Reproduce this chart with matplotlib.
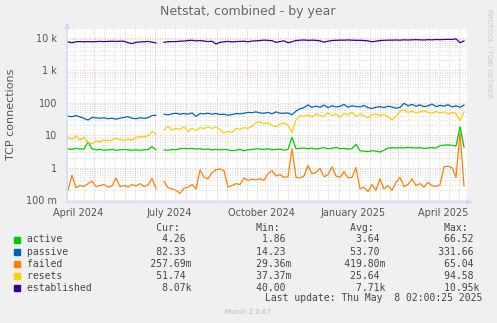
import numpy as np
import pandas as pd
import matplotlib
matplotlib.use('Agg')
from matplotlib import pyplot as plt

# 数据：每4天一个点，从 2024-04-05 开始
dates = pd.date_range('2024-04-05', periods=100, freq='4D')
nan = np.nan

active = [3.8, 3.6, 3.9, 3.7, 3.7, 6.2, 3.8, 3.5, 3.6, 3.4,
          3.5, 3.6, 3.4, 3.5, 3.6, 3.5, 3.4, 3.5, 3.4, 3.5,
          3.6, 4.4, 3.5, nan, 3.5, 3.4, 3.6, 3.5, 3.8, 3.9,
          3.8, 3.9, 3.7, 3.8, 3.6, 3.7, 3.5, 3.6, 3.5, 3.6,
          3.5, 3.3, 3.4, 3.6, 3.3, 3.5, 3.6, 3.8, 3.7, 3.6,
          3.8, 3.5, 3.6, 3.7, 3.4, 3.6, 8.5, 3.8, 3.9, 4.0,
          3.8, 4.0, 3.7, 3.9, 4.1, 3.8, 3.9, 4.2, 3.8, 3.9,
          3.7, 3.8, 5.2, 3.3, 3.2, 3.1, 3.3, 3.2, 3.0, 3.4,
          4.0, 4.1, 4.0, 4.1, 4.0, 4.2, 4.1, 4.0, 4.1, 3.9,
          4.0, 4.1, 4.0, 4.7, 4.9, 5.0, 4.8, 4.6, 18.0, 4.3]

passive = [38, 37, 40, 36, 33, 29, 35, 34, 33, 34,
           32, 33, 31, 33, 35, 37, 33, 32, 34, 33,
           34, 40, 41, nan, 44, 42, 45, 47, 44, 46,
           44, 48, 38, 46, 45, 47, 44, 46, 43, 44,
           41, 43, 46, 45, 47, 50, 49, 52, 48, 47,
           50, 45, 52, 47, 47, 48, 42, 55, 65, 70,
           85, 72, 78, 72, 84, 70, 80, 74, 77, 88,
           72, 80, 76, 74, 82, 70, 66, 72, 75, 70,
           78, 73, 67, 72, 95, 80, 88, 78, 85, 75,
           80, 90, 76, 82, 78, 86, 74, 80, 72, 84]

failed = [0.20, 0.58, 0.24, 0.28, 0.26, 0.32, 0.38, 0.26, 0.28, 0.30,
          0.25, 0.27, 0.48, 0.26, 0.28, 0.25, 0.30, 0.27, 0.32, 0.26,
          0.29, 0.46, 0.23, nan, 0.37, 0.24, 0.22, 0.20, 0.16, 0.23,
          0.25, 0.30, 0.22, 0.85, 0.50, 0.45, 0.70, 0.85, 0.90, 0.80,
          0.25, 0.28, 0.32, 0.30, 0.48, 0.40, 0.44, 0.42, 0.45, 0.40,
          0.65, 0.80, 0.55, 0.60, 0.50, 0.52, 3.8, 0.50, 0.48, 0.55,
          1.15, 0.65, 0.70, 0.95, 0.52, 0.60, 1.05, 0.55, 0.50, 0.75,
          0.48, 0.50, 1.00, 0.22, 0.25, 0.18, 0.30, 0.20, 0.45, 0.22,
          0.28, 0.20, 0.35, 0.50, 0.26, 0.30, 0.45, 0.28, 0.32, 0.25,
          0.35, 0.28, 0.26, 0.30, 1.05, 1.10, 1.00, 0.50, 12.0, 0.27]

resets = [8.5, 7.5, 9.5, 7.0, 8.5, 6.0, 5.4, 6.5, 6.2, 7.2,
          6.6, 7.0, 8.0, 7.2, 6.8, 7.5, 7.0, 8.5, 9.0, 8.8,
          9.5, 13, 11, nan, 14, 19, 14, 16, 15, 18,
          13, 16, 14, 17, 16, 18, 16, 18, 15, 11.5,
          13, 12, 16, 15, 17, 16, 19, 24, 26, 22,
          24, 20, 18, 22, 24, 20, 12, 30, 40, 38,
          42, 36, 45, 40, 38, 48, 40, 44, 36, 46,
          42, 50, 38, 44, 40, 34, 42, 45, 40, 43,
          36, 30, 38, 55, 60, 50, 55, 48, 52, 56,
          50, 47, 54, 48, 52, 44, 50, 46, 28, 52]

established = [7400, 7000, 7500, 7600, 7500, 7600, 7500, 7600, 7700, 7600,
               7700, 7800, 7700, 7800, 7800, 7000, 6600, 7200, 7400, 7500,
               7700, 7300, 6900, nan, 7200, 7500, 7600, 7600, 7800, 7900,
               8200, 8300, 8000, 8200, 7900, 7600, 7800, 6400, 7200, 7500,
               7700, 7400, 7600, 7700, 7800, 7500, 7900, 8000, 8200, 8400,
               8300, 8100, 7200, 7600, 8000, 7000, 7500, 8200, 8400, 8500,
               8300, 8400, 8300, 8000, 7300, 7800, 8200, 8300, 8400, 8400,
               8500, 8400, 8300, 8300, 8200, 8000, 7500, 7800, 8200, 8300,
               8400, 8400, 8500, 8400, 8600, 8500, 8600, 8700, 8600, 8500,
               8700, 8600, 8800, 8700, 8800, 8900, 8800, 9200, 7000, 8000]

series_names = ['active', 'passive', 'failed', 'resets', 'established']
series_colors = ['#00CC00', '#0066B3', '#FF8000', '#FFCC00', '#330099']
cur_vals = ['4.26 ', '82.33 ', '257.69m', '51.74 ', '8.07k']
min_vals = ['1.86 ', '14.23 ', '29.36m', '37.37m', '40.00 ']
avg_vals = ['3.64 ', '53.70 ', '419.80m', '25.64 ', '7.71k']
max_vals = ['66.52 ', '331.66 ', '65.04 ', '94.58 ', '10.95k']

ytick_vals = [0.1, 1, 10, 100, 1000, 10000]
ytick_labels = ['100 m', '1', '10', '100', '1 k', '10 k']
xtick_dates = ['2024-04-15', '2024-07-15', '2024-10-15', '2025-01-15', '2025-04-15']
xtick_labels = ['April 2024', 'July 2024', 'October 2024', 'January 2025', 'April 2025']

W, H = 497, 323
fig = plt.figure(figsize=(W / 100, H / 100), dpi=100, facecolor='#F0F0F0')
ax = fig.add_axes([67 / W, 1 - 202 / H, 400 / W, 174 / H])
ax.set_facecolor('white')
ax.set_yscale('log')
x0 = pd.Timestamp('2024-04-04')
x1 = pd.Timestamp('2025-05-09')
ax.set_xlim(x0, x1)
ax.set_ylim(10 ** -1.0616, 10 ** 4.299)

# 网格线
minor_style = dict(color='#cccccc', lw=0.6, ls=(0, (1, 2)), zorder=1)
major_style = dict(color='#eaa4a4', lw=0.6, ls=(0, (1, 2)), zorder=1)
for dec in range(-1, 5):
    for m in range(2, 10):
        ax.axhline(m * 10.0 ** dec, **minor_style)
    ax.axhline(10.0 ** dec, **major_style)
for d in pd.date_range('2024-04-01', '2025-05-31', freq='D'):
    if d < x0 or d > x1:
        continue
    if d.day == 1:
        ax.axvline(d, **major_style)
    elif d.day in (11, 21):
        ax.axvline(d, **minor_style)

# 画各条线
for name, vals, col in zip(series_names, [active, passive, failed, resets, established], series_colors):
    ax.plot(dates, vals, color=col, lw=0.9, zorder=3)

for s in ax.spines.values():
    s.set_visible(False)
ax.set_yticks(ytick_vals)
ax.set_yticklabels(ytick_labels)
ax.yaxis.set_minor_locator(matplotlib.ticker.NullLocator())
ax.set_xticks(pd.to_datetime(xtick_dates))
ax.set_xticklabels(xtick_labels)
ax.tick_params(length=0, labelsize=7, colors='#555555')
ax.tick_params(axis='x', pad=4)
ax.tick_params(axis='y', pad=7)

arrow = dict(arrowstyle='-|>,head_width=0.15,head_length=0.35', color='#CFD6F8', lw=1.0, shrinkA=0, shrinkB=0)
ax.annotate('', xy=(0, 1.035), xytext=(0, 0), xycoords='axes fraction', arrowprops=arrow, annotation_clip=False)
ax.annotate('', xy=(1.015, 0), xytext=(0, 0), xycoords='axes fraction', arrowprops=arrow, annotation_clip=False)

# 标题和标签
fig.text(248 / W, 1 - 12 / H, 'Netstat, combined - by year', ha='center', va='center', fontsize=9, color='#666666')
fig.text(11 / W, 1 - 114 / H, 'TCP connections', ha='center', va='center', rotation=90, fontsize=8, color='#555555')
fig.text(489 / W, 1 - 53 / H, 'RRDTOOL / TOBI OETIKER', ha='center', va='center', rotation=270, fontsize=5, color='#c8c8c8')
fig.text(248 / W, 1 - 312 / H, 'Munin 2.0.67', ha='center', va='center', fontsize=5, color='#bbbbbb')


def put(buf, pos, s):
    for k, ch in enumerate(s):
        buf[pos + k] = ch


# 图例（等宽字体按列排）
mono = dict(family='DejaVu Sans Mono', fontsize=7, color='#444444', va='center', ha='left')
head = [' '] * 80
put(head, 22, 'Cur:')
put(head, 39, 'Min:')
put(head, 55, 'Avg:')
put(head, 71, 'Max:')
fig.text(27 / W, 1 - 228 / H, ''.join(head).rstrip(), **mono)
for k, name in enumerate(series_names):
    y = 239.5 + 12.1 * k
    buf = [' '] * 80
    put(buf, 0, name)
    for end, v in zip([26, 43, 59, 75], [cur_vals[k], min_vals[k], avg_vals[k], max_vals[k]]):
        put(buf, end + 2 - len(v), v)
    fig.text(27 / W, 1 - y / H, ''.join(buf).rstrip(), **mono)
    fig.patches.append(plt.Rectangle((14 / W, 1 - (y + 3) / H), 6 / W, 6 / H,
                                     transform=fig.transFigure, color=series_colors[k]))
fig.text(482 / W, 1 - 298 / H, 'Last update: Thu May  8 02:00:25 2025',
         family='DejaVu Sans Mono', fontsize=7, color='#444444', va='center', ha='right')

fig.savefig('out.png', dpi=100, facecolor=fig.get_facecolor())
